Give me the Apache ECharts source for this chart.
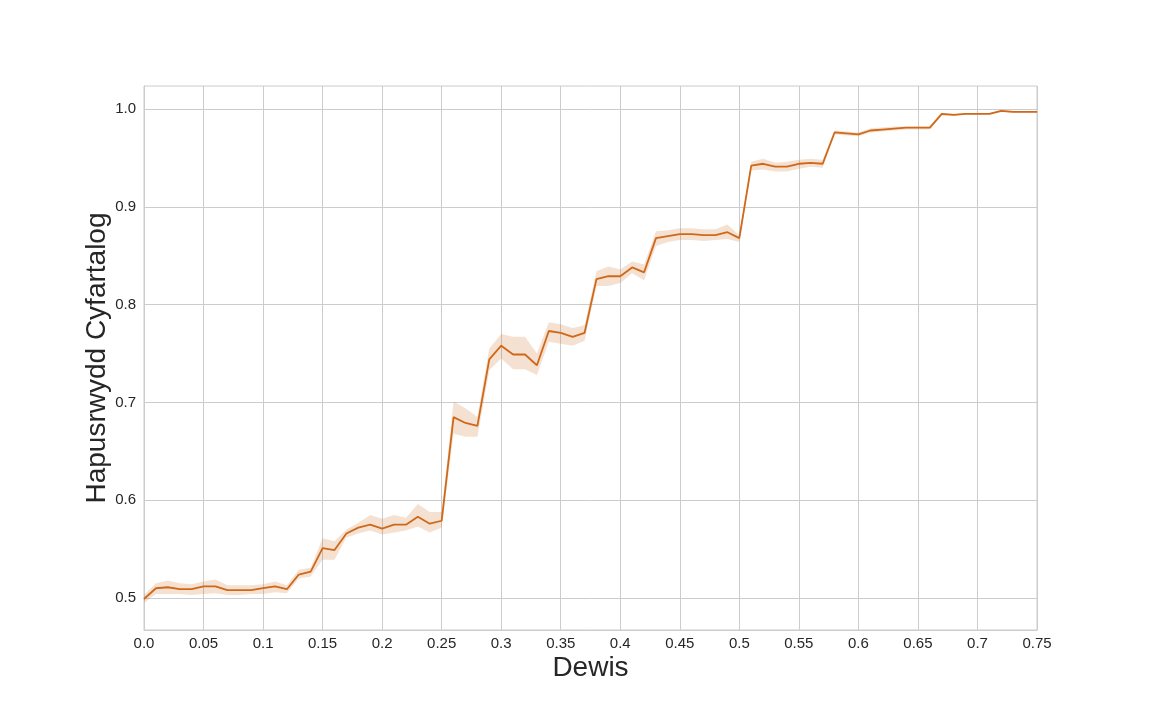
<!DOCTYPE html>
<html>
<head>
<meta charset="utf-8">
<script src="https://cdn.jsdelivr.net/npm/echarts@6/dist/echarts.min.js"></script>
<style>
html,body{margin:0;padding:0;background:#fff;}
#chart{width:1152px;height:720px;}
</style>
</head>
<body>
<div id="chart"></div>
<script>
const xValues = [0.00,0.01,0.02,0.03,0.04,0.05,0.06,0.07,0.08,0.09,0.10,0.11,0.12,0.13,0.14,0.15,0.16,0.17,0.18,0.19,0.20,0.21,0.22,0.23,0.24,0.25,0.26,0.27,0.28,0.29,0.30,0.31,0.32,0.33,0.34,0.35,0.36,0.37,0.38,0.39,0.40,0.41,0.42,0.43,0.44,0.45,0.46,0.47,0.48,0.49,0.50,0.51,0.52,0.53,0.54,0.55,0.56,0.57,0.58,0.59,0.60,0.61,0.62,0.63,0.64,0.65,0.66,0.67,0.68,0.69,0.70,0.71,0.72,0.73,0.74,0.75];
const meanValues = [0.499,0.510,0.511,0.509,0.509,0.512,0.512,0.508,0.508,0.508,0.510,0.512,0.509,0.524,0.527,0.551,0.549,0.566,0.572,0.575,0.571,0.575,0.575,0.583,0.576,0.579,0.685,0.679,0.676,0.744,0.758,0.749,0.749,0.738,0.773,0.771,0.767,0.771,0.826,0.829,0.829,0.838,0.833,0.868,0.870,0.872,0.872,0.871,0.871,0.874,0.868,0.942,0.944,0.941,0.941,0.944,0.945,0.944,0.976,0.975,0.974,0.978,0.979,0.980,0.981,0.981,0.981,0.995,0.994,0.995,0.995,0.995,0.998,0.997,0.997,0.997];
const lowerValues = [0.495,0.504,0.504,0.504,0.503,0.504,0.505,0.503,0.503,0.504,0.504,0.506,0.505,0.520,0.522,0.539,0.539,0.562,0.566,0.569,0.565,0.567,0.569,0.573,0.567,0.572,0.668,0.665,0.665,0.733,0.745,0.734,0.734,0.728,0.762,0.760,0.758,0.763,0.819,0.819,0.822,0.832,0.825,0.860,0.864,0.866,0.866,0.865,0.866,0.867,0.864,0.937,0.938,0.936,0.936,0.939,0.941,0.940,0.974,0.973,0.972,0.976,0.977,0.978,0.979,0.979,0.979,0.993,0.993,0.994,0.994,0.994,0.997,0.996,0.996,0.996];
const upperValues = [0.503,0.515,0.518,0.515,0.514,0.517,0.519,0.513,0.513,0.513,0.514,0.517,0.513,0.529,0.531,0.561,0.558,0.570,0.577,0.585,0.581,0.585,0.582,0.596,0.588,0.588,0.701,0.694,0.685,0.755,0.770,0.767,0.767,0.750,0.782,0.780,0.776,0.779,0.834,0.839,0.836,0.844,0.841,0.875,0.876,0.878,0.878,0.877,0.877,0.882,0.871,0.946,0.949,0.945,0.946,0.948,0.949,0.948,0.978,0.977,0.976,0.980,0.981,0.982,0.982,0.982,0.982,0.996,0.995,0.996,0.996,0.996,0.999,0.998,0.998,0.998];
const yTicks = [0.5,0.6,0.7,0.8,0.9,1.0];
const xTitle = 'Dewis';
const yTitle = 'Hapusrwydd Cyfartalog';

const lineColor = '#cf6818';
const textColor = '#262626';
const gridColor = '#cccccc';
const font = '"Liberation Sans", Arial, sans-serif';

const meanData = xValues.map((x, i) => [x, meanValues[i]]);

const chart = echarts.init(document.getElementById('chart'), null, {renderer: 'canvas'});
chart.setOption({
  animation: false,
  backgroundColor: '#ffffff',
  grid: {left: 144, right: 115, top: 86, bottom: 90, show: true, borderColor: gridColor, borderWidth: 1, containLabel: false},
  xAxis: {
    type: 'value', min: 0, max: 0.75, interval: 0.05,
    name: xTitle, nameLocation: 'middle', nameGap: 24, nameMoveOverlap: false,
    nameTextStyle: {fontFamily: font, fontSize: 28, color: textColor, verticalAlign: 'top'},
    axisLine: {show: true, lineStyle: {color: gridColor, width: 1}},
    axisTick: {show: false},
    axisLabel: {fontFamily: font, fontSize: 15, color: textColor, margin: 6,
      formatter: v => v === 0 ? '0.0' : String(parseFloat(v.toFixed(2)))},
    splitLine: {show: true, lineStyle: {color: gridColor, width: 1}}
  },
  yAxis: {
    type: 'value', min: 0.4673, max: 1.0235,
    name: yTitle, nameLocation: 'middle', nameGap: 33, nameMoveOverlap: false,
    nameTextStyle: {fontFamily: font, fontSize: 28, color: textColor},
    axisLine: {show: true, lineStyle: {color: gridColor, width: 1}},
    axisTick: {show: false, customValues: yTicks},
    axisLabel: {fontFamily: font, fontSize: 15, color: textColor, margin: 8,
      customValues: yTicks, formatter: v => v.toFixed(1)},
    splitLine: {show: true, lineStyle: {color: gridColor, width: 1}}
  },
  series: [
    {
      type: 'custom', silent: true, z: 1,
      data: [[xValues[0], lowerValues[0]]],
      renderItem: function (params, api) {
        const pts = [];
        for (let i = 0; i < xValues.length; i++) pts.push(api.coord([xValues[i], upperValues[i]]));
        for (let i = xValues.length - 1; i >= 0; i--) pts.push(api.coord([xValues[i], lowerValues[i]]));
        return {type: 'polygon', shape: {points: pts}, style: {fill: lineColor, opacity: 0.2}};
      }
    },
    {type: 'line', data: meanData, symbol: 'none', lineStyle: {color: lineColor, width: 1.8}, z: 3}
  ]
});
</script>
</body>
</html>
